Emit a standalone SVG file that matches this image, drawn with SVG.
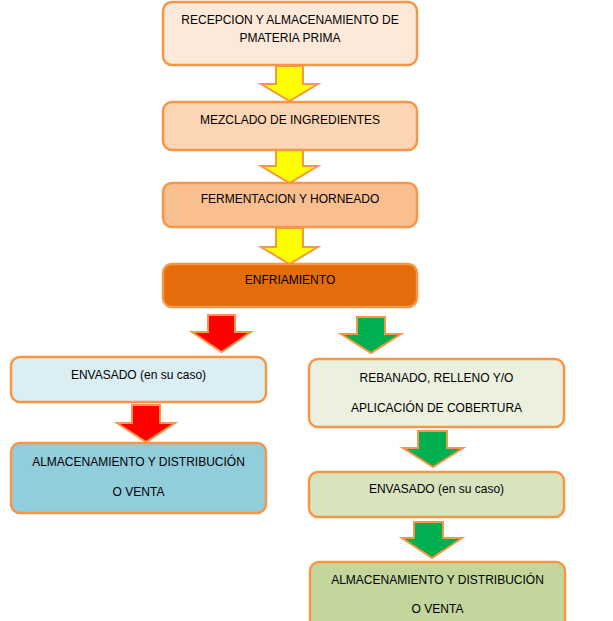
<svg xmlns="http://www.w3.org/2000/svg" width="613" height="621" viewBox="0 0 613 621">
<style>
.box{stroke:#F79646;stroke-width:2.5}
.arr{stroke:#F79646;stroke-width:2;stroke-linejoin:miter}
.y{fill:#FFFF00}.r{fill:#FF0000}.g{fill:#00B050}
text{font-family:"Liberation Sans",Arial,sans-serif;font-size:12px;fill:#000;text-anchor:middle;dominant-baseline:central}
</style>
<rect width="613" height="621" fill="#fff"/>
<g id="connectors">
<polygon class="arr y" points="276,66 303,66 303,84 318,84 289.5,101 261,84 276,84"/>
<polygon class="arr y" points="276,150 303,150 303,166 318,166 289.5,183 261,166 276,166"/>
<polygon class="arr y" points="276,228 303,228 303,247 318,247 289.5,264 261,247 276,247"/>
<polygon class="arr r" points="208,315 235,315 235,332 251,332 221.5,352 192,332 208,332"/>
<polygon class="arr r" points="132,405 160,405 160,423 175,423 146,442 117,423 132,423"/>
<polygon class="arr g" points="357,317 385,317 385,334 401,334 371,353 341,334 357,334"/>
<polygon class="arr g" points="418,431 447,431 447,448 463,448 433,467 403,448 418,448"/>
<polygon class="arr g" points="414,522 443,522 443,538 462,538 432,558 402,538 414,538"/>
</g>
<g id="n1"><rect class="box" x="163" y="2" width="254" height="63" rx="9" fill="#FDE9D9"/>
<text x="290" y="20">RECEPCION Y ALMACENAMIENTO DE</text><text x="290" y="38">PMATERIA PRIMA</text></g>
<g id="n2"><rect class="box" x="163" y="102" width="254" height="48" rx="9" fill="#FCD5B4"/>
<text x="290" y="120">MEZCLADO DE INGREDIENTES</text></g>
<g id="n3"><rect class="box" x="163" y="183" width="254" height="44" rx="9" fill="#FABF8F"/>
<text x="290" y="199">FERMENTACION Y HORNEADO</text></g>
<g id="n4"><rect class="box" x="163" y="264" width="254" height="43" rx="9" fill="#E46C0A"/>
<text x="290" y="280">ENFRIAMIENTO</text></g>
<g id="n5"><rect class="box" x="11" y="357" width="255" height="45" rx="9" fill="#DBEEF3"/>
<text x="138.5" y="375">ENVASADO (en su caso)</text></g>
<g id="n6"><rect class="box" x="11" y="443" width="255" height="70" rx="9" fill="#92CDDC"/>
<text x="138.5" y="462">ALMACENAMIENTO Y DISTRIBUCIÓN</text><text x="138.5" y="492">O VENTA</text></g>
<g id="n7"><rect class="box" x="309" y="359" width="255" height="68" rx="9" fill="#EBF1DE"/>
<text x="436.5" y="378">REBANADO, RELLENO Y/O</text><text x="436.5" y="408">APLICACIÓN DE COBERTURA</text></g>
<g id="n8"><rect class="box" x="309" y="472" width="255" height="45" rx="9" fill="#D7E4BD"/>
<text x="436.5" y="489">ENVASADO (en su caso)</text></g>
<g id="n9"><rect class="box" x="310" y="562" width="255" height="80" rx="9" fill="#C3D69B"/>
<text x="437.5" y="580">ALMACENAMIENTO Y DISTRIBUCIÓN</text><text x="437.5" y="609">O VENTA</text></g>
</svg>
